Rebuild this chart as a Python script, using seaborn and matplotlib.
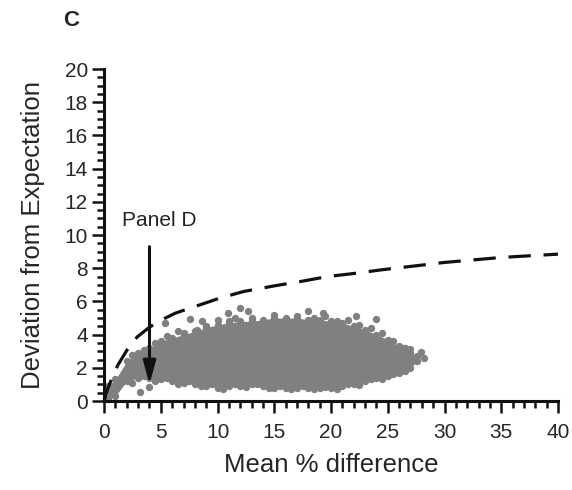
import numpy as np
import pandas as pd
import seaborn as sns
import matplotlib.pyplot as plt
from matplotlib.ticker import MultipleLocator

# dashed expectation curve
curve_x = [0.0, 0.3, 0.7, 1.2, 2.0, 2.9, 4.0, 5.1, 6.3, 7.6, 10.2, 12.3, 15.1, 17.3,
           19.7, 22.2, 24.4, 30.0, 35.0, 40.0]
curve_y = [0.0, 0.7, 1.4, 2.15, 3.05, 3.85, 4.45, 4.9, 5.3, 5.6, 6.2, 6.6, 6.95, 7.2,
           7.5, 7.7, 7.9, 8.35, 8.65, 8.85]

# envelope of the dense point cloud
cloud_x = [0.3, 1, 2, 3, 4, 5, 6, 7, 8, 9, 10, 11, 12, 13, 14, 15, 16, 17, 18, 19,
           20, 21, 22, 23, 24, 25, 26, 27, 27.6]
cloud_hi = [0.9, 1.3, 2.4, 2.9, 3.2, 3.6, 3.8, 4.0, 4.2, 4.4, 4.6, 4.7, 4.8, 4.8, 4.9,
            5.0, 5.0, 5.0, 4.9, 4.9, 4.8, 4.7, 4.5, 4.3, 4.0, 3.7, 3.3, 2.9, 2.7]
cloud_lo = [0.1, 0.3, 1.2, 1.4, 1.4, 1.3, 1.2, 1.1, 1.0, 0.9, 0.8, 0.9, 0.9, 1.0, 0.9,
            0.8, 0.8, 0.8, 0.8, 0.8, 0.8, 0.9, 1.0, 1.2, 1.4, 1.5, 1.7, 2.0, 2.4]

# bumpy points along the upper and lower edges of the cloud
top_x = [2.5, 3.5, 4.5, 5.5, 6.0, 7.0, 8.0, 9.0, 9.5, 10.0, 11.0, 11.5, 13.0, 14.0,
         15.0, 16.0, 17.0, 18.5, 19.5, 20.5, 21.5, 22.5, 23.5, 24.5, 25.5, 26.5]
top_y = [2.8, 3.1, 3.5, 3.9, 3.6, 4.1, 4.0, 4.5, 4.3, 4.9, 4.8, 5.0, 5.0, 4.8, 5.2,
         4.9, 5.1, 5.0, 5.1, 4.8, 4.9, 4.6, 4.4, 4.1, 3.6, 3.2]
bot_x = [2.5, 3.5, 4.5, 5.5, 6.5, 7.5, 8.5, 9.5, 10.5, 11.5, 12.5, 13.5, 14.5, 15.5,
         16.5, 17.5, 18.5, 19.5, 20.5, 21.5, 22.5, 23.5, 24.5, 25.5, 26.5]
bot_y = [1.1, 1.5, 1.2, 1.4, 1.0, 1.2, 0.9, 1.0, 0.75, 1.0, 0.85, 1.05, 0.8, 0.9,
         0.7, 0.9, 0.75, 0.85, 0.7, 1.0, 0.95, 1.3, 1.3, 1.6, 1.8]

# scattered points outside the dense core
out_x = [3.2, 4.0, 5.4, 6.5, 7.6, 8.2, 8.6, 10.9, 12.0, 12.7, 18.0, 19.3, 22.2, 24.0,
         26.4, 27.0, 27.9, 28.2]
out_y = [0.55, 0.85, 4.7, 4.2, 4.95, 4.3, 4.8, 5.3, 5.6, 5.4, 5.4, 5.3, 5.1, 4.95,
         3.2, 3.15, 2.95, 2.6]

pts = pd.DataFrame({'x': out_x + cloud_x + cloud_x + top_x + bot_x,
                    'y': out_y + cloud_hi + cloud_lo + top_y + bot_y})
curve = pd.DataFrame({'x': curve_x, 'y': curve_y})

sns.set_style('ticks')
plt.rcParams['font.family'] = ['Liberation Sans', 'DejaVu Sans']

fig = plt.figure(figsize=(5.72, 4.90), dpi=100)
ax = fig.add_axes([0.182, 0.1816, 0.7935, 0.6774])

grey = '#808080'
ax.fill_between(cloud_x, cloud_lo, cloud_hi, color=grey, lw=0, zorder=2)
sns.scatterplot(data=pts, x='x', y='y', ax=ax, color=grey, s=28, linewidth=0,
                zorder=2, clip_on=False)
sns.lineplot(data=curve, x='x', y='y', ax=ax, sort=False, color='#111111', lw=2.3,
             zorder=3, clip_on=False)
ax.lines[-1].set_dashes([7, 4])

ax.annotate('', xy=(4.0, 1.0), xytext=(4.0, 9.3),
            arrowprops=dict(arrowstyle='-|>,head_length=1.4,head_width=0.38',
                            color='#111111', lw=2.2, shrinkA=0, shrinkB=0), zorder=4)
ax.text(4.9, 10.9, 'Panel D', fontsize=15, ha='center', va='center', color='#222222')

ax.set_xlim(0, 40)
ax.set_ylim(0, 20)
ax.xaxis.set_major_locator(MultipleLocator(5))
ax.xaxis.set_minor_locator(MultipleLocator(1))
ax.yaxis.set_major_locator(MultipleLocator(2))
ax.yaxis.set_minor_locator(MultipleLocator(0.5))
ax.tick_params(which='major', length=8.6, width=1.8, labelsize=15, color='#111111')
ax.tick_params(axis='x', which='major', pad=7)
ax.tick_params(axis='y', which='major', pad=3)
ax.tick_params(which='minor', length=5, width=1.8, color='#111111')
for s in ['top', 'right']:
    ax.spines[s].set_visible(False)
for s in ['left', 'bottom']:
    ax.spines[s].set_linewidth(2.2)
    ax.spines[s].set_color('#111111')

ax.set_xlabel('Mean % difference', fontsize=18.5, labelpad=8)
ax.set_ylabel('Deviation from Expectation', fontsize=18.5, labelpad=14)
fig.text(0.124, 0.959, 'C', fontsize=16, fontweight='bold', ha='center', va='center')

fig.savefig('out.png', dpi=100)
